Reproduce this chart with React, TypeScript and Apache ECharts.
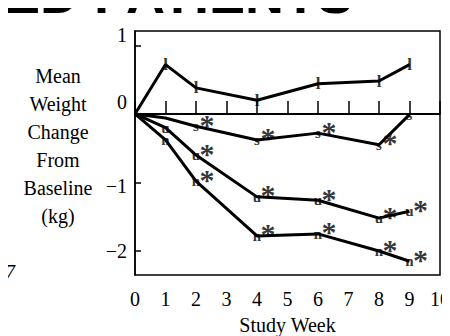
import React, { useEffect, useRef } from "react";
import * as echarts from "echarts";

// Study weeks at which each group was measured
const weeks = [0, 1, 2, 4, 6, 8, 9];

// Mean weight change from baseline (kg), one array per treatment group
const groupL = [0, 0.72, 0.38, 0.2, 0.44, 0.48, 0.72];
const groupS = [0, -0.06, -0.18, -0.38, -0.28, -0.45, -0.01];
const groupU = [0, -0.2, -0.6, -1.21, -1.26, -1.52, -1.42];
const groupN = [0, -0.38, -0.98, -1.78, -1.75, -2.0, -2.15];

// Whether a plot symbol is drawn at each week
const markL = [false, true, true, true, true, true, true];
const markS = [false, false, true, true, true, true, true];
const markU = [false, true, true, true, true, true, true];
const markN = [false, true, true, true, true, true, true];

// Significance flags (asterisk) per week for each group
const sigL = [false, false, false, false, false, false, false];
const sigS = [false, false, true, true, true, true, false];
const sigU = [false, false, true, true, true, true, true];
const sigN = [false, false, true, true, true, true, true];

// Plot-symbol characters used for each group
const groups = [
  { name: "l", values: groupL, mark: markL, sig: sigL },
  { name: "s", values: groupS, mark: markS, sig: sigS },
  { name: "u", values: groupU, mark: markU, sig: sigU },
  { name: "n", values: groupN, mark: markN, sig: sigN },
];

const xTicks = [0, 1, 2, 3, 4, 5, 6, 7, 8, 9, 10];
const yTicks = [1, 0, -1, -2];
const yTitle = ["Mean", "Weight", "Change", "From", "Baseline", "(kg)"];

const SERIF = "'Liberation Serif', 'Times New Roman', serif";

export default function App() {
  const ref = useRef<HTMLDivElement>(null);

  useEffect(() => {
    if (!ref.current) return;
    const chart = echarts.init(ref.current, null, { renderer: "svg" });

    const series: any[] = [];
    groups.forEach((g, gi) => {
      const pts = weeks.map((w, i) => [w, g.values[i]]);
      series.push({
        type: "line",
        data: pts,
        symbol: "none",
        lineStyle: { color: "#000", width: 3 },
        z: 3,
        markLine:
          gi === 0
            ? {
                silent: true,
                symbol: "none",
                label: { show: false },
                lineStyle: { color: "#000", width: 2, type: "solid" },
                data: [{ yAxis: 0 }],
              }
            : undefined,
      });
      // plot-symbol letters on the measured points
      series.push({
        type: "scatter",
        data: pts.filter((_, i) => g.mark[i]),
        symbolSize: 1,
        itemStyle: { color: "rgba(0,0,0,0)" },
        z: 4,
        label: {
          show: true,
          position: "inside",
          formatter: g.name,
          color: "#000",
          fontFamily: SERIF,
          fontSize: g.name === "l" ? 17 : 15,
          fontWeight: "bold",
        },
      });
      // significance asterisks
      series.push({
        type: "scatter",
        data: pts.filter((_, i) => g.sig[i]),
        symbolSize: 1,
        itemStyle: { color: "rgba(0,0,0,0)" },
        z: 4,
        label: {
          show: true,
          position: "inside",
          offset: [11, -2],
          formatter: "*",
          color: "#000",
          fontFamily: SERIF,
          fontSize: 30,
          fontWeight: "bold",
        },
      });
    });

    // y tick labels sit slightly off their ticks in this figure
    const labelStyle = { fontFamily: SERIF, fontSize: 20, color: "#000" };
    const rich = {
      up: { ...labelStyle, padding: [0, 0, 24, 0] },
      up2: { ...labelStyle, padding: [0, 0, 20, 0] },
      down: { ...labelStyle, padding: [8, 0, 0, 0] },
      plain: { ...labelStyle },
    };

    chart.setOption({
      animation: false,
      backgroundColor: "#fff",
      grid: {
        left: 127,
        right: 18,
        top: 23,
        bottom: 69,
        show: true,
        borderColor: "#000",
        borderWidth: 1.5,
        backgroundColor: "transparent",
      },
      xAxis: {
        type: "value",
        min: 0,
        max: 10,
        interval: 1,
        name: "Study Week",
        nameLocation: "middle",
        nameGap: 40,
        nameTextStyle: { fontFamily: SERIF, fontSize: 20, color: "#000" },
        axisLine: { show: true, lineStyle: { color: "#000", width: 1.5 } },
        axisTick: { show: true, inside: true, length: 13, lineStyle: { color: "#000", width: 1.5 } },
        splitLine: { show: false },
        axisLabel: {
          fontFamily: SERIF,
          fontSize: 20,
          color: "#000",
          margin: 14,
          customValues: xTicks,
        },
      },
      yAxis: {
        type: "value",
        min: -2.35,
        max: 1.21,
        axisLine: { show: true, lineStyle: { color: "#000", width: 1.5 } },
        axisTick: {
          show: true,
          inside: true,
          length: 6,
          lineStyle: { color: "#000", width: 1.5 },
          customValues: yTicks,
        },
        splitLine: { show: false },
        axisLabel: {
          fontFamily: SERIF,
          fontSize: 20,
          color: "#000",
          margin: 8,
          customValues: yTicks,
          rich,
          formatter: (v: number) => {
            const txt = v < 0 ? "\u2212" + Math.abs(v) : String(v);
            if (v === 0) return `{up|${txt}}`;
            if (v === 1) return `{up2|${txt}}`;
            if (v === -1) return `{down|${txt}}`;
            return `{plain|${txt}}`;
          },
        },
      },
      graphic: [
        {
          type: "text",
          x: 50,
          y: 54,
          style: {
            text: yTitle.join("\n"),
            font: `20px ${SERIF}`,
            lineHeight: 28,
            textAlign: "center",
            fill: "#000",
          },
        },
        {
          type: "text",
          x: 345,
          y: 13,
          style: {
            text: "ED PATIENTS",
            font: `bold 54px 'Liberation Sans', Arial, sans-serif`,
            textAlign: "right",
            textVerticalAlign: "bottom",
            fill: "#000",
          },
        },
        {
          type: "text",
          x: -3,
          y: 264,
          style: {
            text: "7",
            font: `italic 20px ${SERIF}`,
            textVerticalAlign: "middle",
            fill: "#000",
          },
        },
      ],
      series,
    });

    return () => chart.dispose();
  }, []);

  return <div ref={ref} style={{ width: 450, height: 336 }} />;
}
